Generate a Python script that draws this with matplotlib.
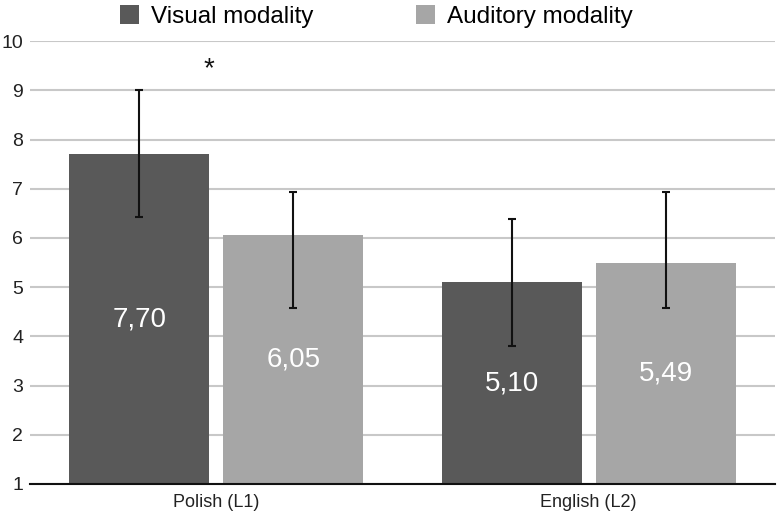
import matplotlib
matplotlib.use("Agg")
import matplotlib.pyplot as plt
import numpy as np

plt.rcParams['font.family'] = ['Liberation Sans', 'DejaVu Sans']

categories = ["Polish (L1)", "English (L2)"]
series_names = ["Visual modality", "Auditory modality"]
visual = [7.70, 5.10]
auditory = [6.05, 5.49]
visual_err_low = [6.42, 3.81]
visual_err_high = [9.00, 6.38]
auditory_err_low = [4.57, 4.58]
auditory_err_high = [6.93, 6.93]
value_labels_visual = ["7,70", "5,10"]
value_labels_auditory = ["6,05", "5,49"]
yticks = [1, 2, 3, 4, 5, 6, 7, 8, 9, 10]

colors = ["#595959", "#a6a6a6"]

fig = plt.figure(figsize=(7.81, 5.14), dpi=100)
ax = fig.add_axes([0.0384, 0.0584, 0.9536, 0.8616])

x = np.arange(len(categories))
w = 0.376
gap = 0.0376
off = (w + gap) / 2

series = [
    (visual, visual_err_low, visual_err_high, value_labels_visual, -off, colors[0]),
    (auditory, auditory_err_low, auditory_err_high, value_labels_auditory, off, colors[1]),
]
bottom = 1
for (vals, lo, hi, labs, o, c), name in zip(series, series_names):
    vals = np.array(vals)
    ax.bar(x + o, vals - bottom, w, bottom=bottom, color=c, label=name, zorder=2)
    yerr = np.array([vals - np.array(lo), np.array(hi) - vals])
    ax.errorbar(x + o, vals, yerr=yerr, fmt='none', ecolor='#111111',
                elinewidth=1.5, capsize=3, capthick=1.5, zorder=3)
    for xi, v, lab in zip(x + o, vals, labs):
        ax.text(xi, (bottom + v) / 2, lab, ha='center', va='center',
                color='white', fontsize=20)

ax.text(x[0] - 0.02, 9.42, "*", ha='center', va='center', fontsize=20, color='#111111')

ax.set_xlim(-0.5, 1.5)
ax.set_ylim(1, 10)
ax.set_yticks(yticks)
ax.set_yticklabels([str(t) for t in yticks], fontsize=14, color='#222222')
ax.set_xticks(x)
ax.set_xticklabels(categories, fontsize=13, color='#222222')
ax.tick_params(axis='y', length=0, pad=5)
ax.tick_params(axis='x', length=0, pad=7)
ax.yaxis.grid(True, color='#c8c8c8', linewidth=1.5, zorder=0)
ax.set_axisbelow(True)
for s in ['top', 'right', 'left']:
    ax.spines[s].set_visible(False)
ax.spines['bottom'].set_color('#111111')
ax.spines['bottom'].set_linewidth(1.5)

leg = ax.legend(loc='center', bbox_to_anchor=(0.465, 1.056), ncol=2,
                frameon=False, fontsize=17.5, handlelength=0.8, handleheight=0.8,
                columnspacing=4.2, handletextpad=0.5, borderpad=0, borderaxespad=0)

fig.savefig("out.png", dpi=100)
